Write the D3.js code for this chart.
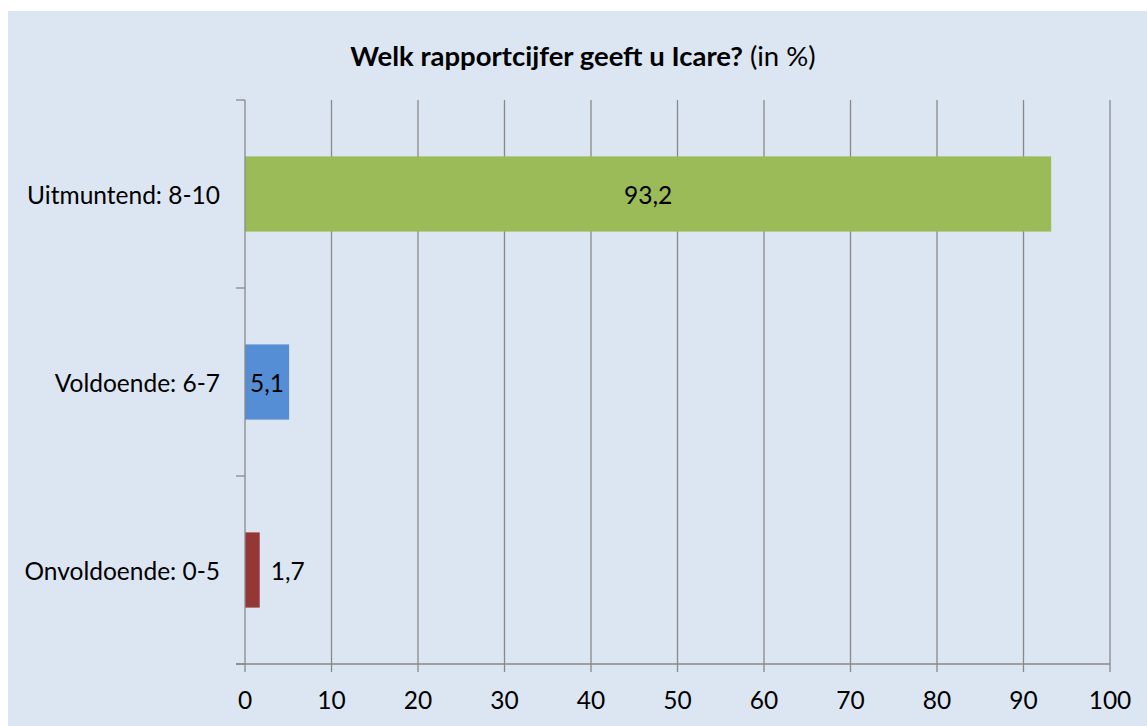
<!DOCTYPE html>
<html><head><meta charset="utf-8">
<script src="https://cdn.jsdelivr.net/npm/d3@7"></script>
<style>body{margin:0;background:#fff;} svg{display:block;} text{font-family:Lato,"Open Sans",sans-serif;fill:#000;}</style>
</head><body>
<svg id="c" width="1147" height="726"></svg>
<script>
const categories = ["Uitmuntend: 8-10", "Voldoende: 6-7", "Onvoldoende: 0-5"];
const values = [93.2, 5.1, 1.7];
const colors = ["#9BBB59", "#558ED5", "#953735"];
const xTicks = [0,10,20,30,40,50,60,70,80,90,100];

(function(){
const svg = d3.select("#c");
svg.append("rect").attr("x",8).attr("y",11).attr("width",1139).attr("height",715).attr("fill","#DCE6F2");

const pL=245, pR=1110, pT=100, pB=664;
const fs = 24.5;
const x = d3.scaleLinear().domain([0,100]).range([pL,pR]);
const y = d3.scaleBand().domain(categories).range([pT,pB]).paddingInner(0.6).paddingOuter(0.3);

svg.append("g").selectAll("line").data(xTicks.slice(1)).join("line")
  .attr("x1",d=>x(d)).attr("x2",d=>x(d)).attr("y1",pT).attr("y2",pB+8)
  .attr("stroke","#898989").attr("stroke-width",1.3);

svg.append("g").selectAll("rect").data(values).join("rect")
  .attr("x",x(0)).attr("y",(d,i)=>y(categories[i]))
  .attr("width",d=>x(d)-x(0)).attr("height",y.bandwidth())
  .attr("fill",(d,i)=>colors[i]);

const fmt = v => String(v).replace(".",",");
svg.append("line").attr("x1",pL).attr("x2",pL).attr("y1",pT).attr("y2",pB+8).attr("stroke","#898989").attr("stroke-width",1.3);
svg.append("line").attr("x1",pL-9).attr("x2",pR).attr("y1",pB).attr("y2",pB).attr("stroke","#898989").attr("stroke-width",1.3);
const yb = [pT, pT+(pB-pT)/3, pT+2*(pB-pT)/3, pB];
svg.append("g").selectAll("line").data(yb).join("line")
  .attr("x1",pL-9).attr("x2",pL).attr("y1",d=>d).attr("y2",d=>d)
  .attr("stroke","#898989").attr("stroke-width",1.3);

svg.append("g").selectAll("text").data(xTicks).join("text")
  .attr("x",d=>x(d)).attr("y",699).attr("text-anchor","middle").attr("dominant-baseline","central")
  .attr("font-size",fs).text(d=>d);

svg.append("g").selectAll("text").data(categories).join("text")
  .attr("x",220).attr("y",d=>y(d)+y.bandwidth()/2).attr("text-anchor","end").attr("dominant-baseline","central")
  .attr("font-size",fs).text(d=>d);

svg.append("g").selectAll("text").data(values).join("text")
  .attr("x",(d,i)=> i<2 ? (x(0)+x(d))/2 : x(d)+11)
  .attr("y",(d,i)=>y(categories[i])+y.bandwidth()/2)
  .attr("text-anchor",(d,i)=> i<2 ? "middle" : "start").attr("dominant-baseline","central")
  .attr("font-size",fs).text(d=>fmt(d));

const t = svg.append("text").attr("x",583).attr("y",55).attr("text-anchor","middle").attr("dominant-baseline","central").attr("font-size",27.5);
t.append("tspan").attr("font-weight","bold").text("Welk rapportcijfer geeft u Icare?");
t.append("tspan").text(" (in %)");
})();
</script>
</body></html>
